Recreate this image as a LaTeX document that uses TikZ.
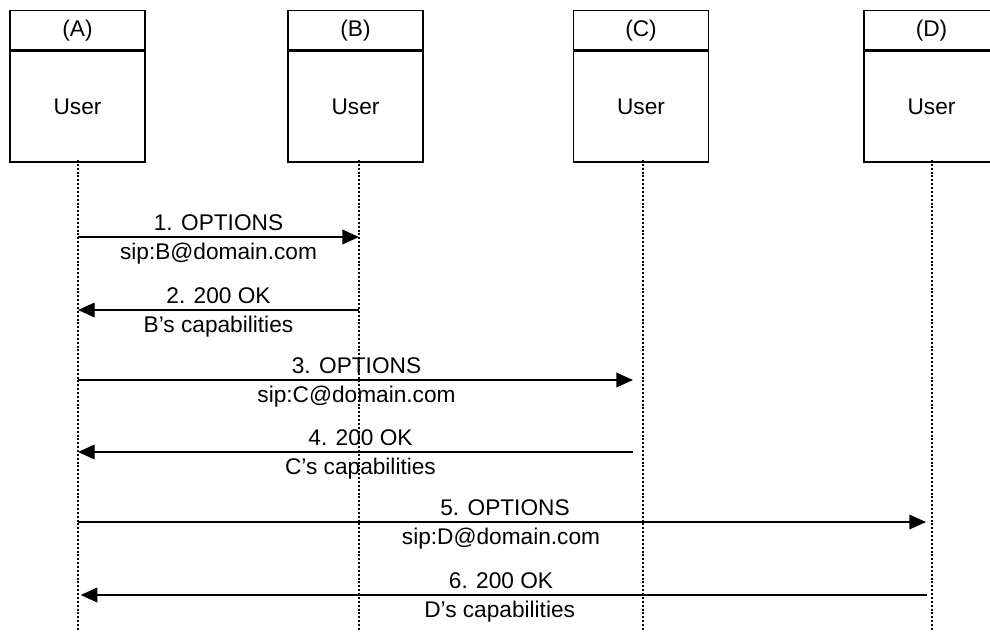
\documentclass[tikz,border=0pt]{standalone}
\usepackage{fontspec}
\setmainfont{Liberation Sans}
\usetikzlibrary{arrows.meta,positioning}

\tikzset{
  headbox/.style={draw, line width=1.1pt, minimum width=101.25pt, minimum height=29.25pt,
    inner sep=0pt, anchor=north},
  bodybox/.style={draw, line width=1.1pt, minimum width=101.25pt, minimum height=83.25pt,
    inner sep=0pt, anchor=north},
  lifeline/.style={line width=1pt, dash pattern=on 1.5pt off 1.4pt},
  msg/.style={line width=1pt, -{Triangle[length=12.5pt,width=11pt]}},
  toplabel/.style={inner sep=0pt, text depth=0pt, anchor=south, yshift=4.5pt},
  botlabel/.style={inner sep=0pt, text height=12.2pt, anchor=north, yshift=-4.5pt},
}

\begin{document}
\begin{tikzpicture}[x=0.75pt, y=-0.75pt, font=\fontsize{17}{20}\selectfont]
\useasboundingbox (0,0) rectangle (990,632);
\clip (0,0) rectangle (990,632);

% participant boxes: header with the letter, body with the role
\foreach \n/\bx/\lx in {A/77.5/78, B/355.5/359, C/641/643, D/931.5/932}{
  \node[headbox] (h\n) at (\bx,10) {(\n)};
  \node[bodybox] (u\n) at (h\n.south) {User};
  \coordinate (l\n) at (\lx,160);
  \coordinate (e\n) at (\lx,640);
  \draw[lifeline] (l\n) -- (e\n);
}

% message rows
\coordinate (y1) at (0,237);
\coordinate (y2) at (0,310);
\coordinate (y3) at (0,380);
\coordinate (y4) at (0,452);
\coordinate (y5) at (0,522);
\coordinate (y6) at (0,595);

\draw[msg] (lA |- y1) -- node[toplabel] {1. OPTIONS} node[botlabel] {sip:B@domain.com} (lB |- y1);
\draw[msg] (lB |- y2) -- node[toplabel] {2. 200 OK} node[botlabel] {B’s capabilities} (lA |- y2);
\draw[msg, shorten >=7.5pt] (lA |- y3) -- node[toplabel, xshift=-3pt] {3. OPTIONS} node[botlabel, xshift=-3pt] {sip:C@domain.com} (lC |- y3);
\draw[msg, shorten <=7.5pt] (lC |- y4) -- node[toplabel] {4. 200 OK} node[botlabel] {C’s capabilities} (lA |- y4);
\draw[msg, shorten >=4.5pt] (lA |- y5) -- node[toplabel] {5. OPTIONS} node[botlabel, xshift=-3pt] {sip:D@domain.com} (lD |- y5);
\draw[msg, shorten <=4pt, shorten >=2pt] (lD |- y6) -- node[toplabel, xshift=-3pt] {6. 200 OK} node[botlabel, xshift=-4pt] {D’s capabilities} (lA |- y6);
\end{tikzpicture}
\end{document}
